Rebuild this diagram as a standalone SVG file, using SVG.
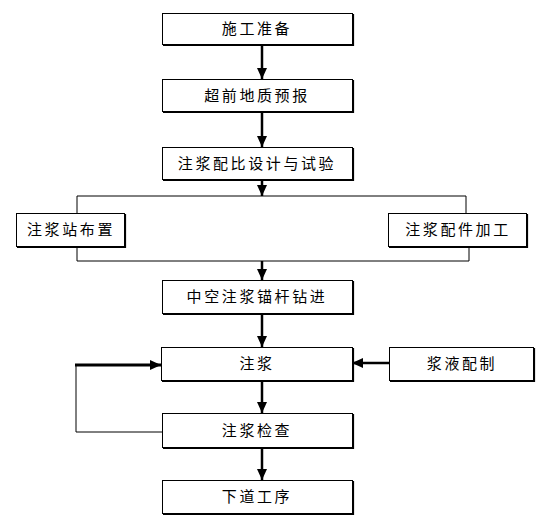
<svg xmlns="http://www.w3.org/2000/svg" width="543" height="522" viewBox="0 0 543 522">
<defs>
<style>
.box{fill:#fff;stroke:#000;stroke-width:1}
.sh{fill:none;stroke:#000;stroke-width:1.2}
.t{font-family:"Noto Sans CJK SC","Noto Sans CJK JP",sans-serif;font-size:15px;letter-spacing:2.6px;text-anchor:middle;fill:#000}
.thin{fill:none;stroke:#000;stroke-width:1}
.arr{fill:none;stroke:#000;stroke-width:2.5;marker-end:url(#ah)}
</style>
<marker id="ah" markerUnits="userSpaceOnUse" markerWidth="12" markerHeight="12" viewBox="0 0 12 12" refX="11" refY="6" orient="auto">
<path d="M0,1 L11,6 L0,11 Z" fill="#000"/>
</marker>
</defs>
<rect width="543" height="522" fill="#fff"/>
<g id="connectors">
<line class="arr" x1="262" y1="45" x2="262" y2="79"/>
<line class="arr" x1="262" y1="113" x2="262" y2="147"/>
<line class="arr" x1="262" y1="180" x2="262" y2="196"/>
<polyline class="thin" points="77,213 77,196 466,196 466,213"/>
<polyline class="thin" points="77,247 77,261 469,261 469,247"/>
<line class="arr" x1="262" y1="261" x2="262" y2="280"/>
<line class="arr" x1="262" y1="314" x2="262" y2="347"/>
<line class="arr" x1="262" y1="381" x2="262" y2="413"/>
<line class="arr" x1="262" y1="448" x2="262" y2="480"/>
<polyline class="thin" points="162,432 76,432 76,365"/>
<line x1="75" y1="365" x2="161" y2="365" stroke="#000" stroke-width="3.2" marker-end="url(#ah)"/>
<line class="arr" x1="389" y1="363" x2="352" y2="363"/>
</g>
<g id="n1"><rect class="box" x="162.5" y="13.5" width="190" height="31"/><polyline class="sh" points="353.5,14 353.5,45.5 163,45.5"/><text class="t" x="257" y="34">施工准备</text></g>
<g id="n2"><rect class="box" x="162.5" y="79.5" width="190" height="32"/><polyline class="sh" points="353.5,80 353.5,112.5 163,112.5"/><text class="t" x="257" y="101">超前地质预报</text></g>
<g id="n3"><rect class="box" x="162.5" y="147.5" width="190" height="32"/><polyline class="sh" points="353.5,148 353.5,180.5 163,180.5"/><text class="t" x="257" y="169">注浆配比设计与试验</text></g>
<g id="n4"><rect class="box" x="16.5" y="213.5" width="108" height="33"/><polyline class="sh" points="125.5,214 125.5,247.5 17,247.5"/><text class="t" x="71" y="235">注浆站布置</text></g>
<g id="n5"><rect class="box" x="388.5" y="213.5" width="138" height="33"/><polyline class="sh" points="527.5,214 527.5,247.5 389,247.5"/><text class="t" x="458" y="235">注浆配件加工</text></g>
<g id="n6"><rect class="box" x="162.5" y="280.5" width="190" height="33"/><polyline class="sh" points="353.5,281 353.5,314.5 163,314.5"/><text class="t" x="257" y="302">中空注浆锚杆钻进</text></g>
<g id="n7"><rect class="box" x="161.5" y="347.5" width="191" height="33"/><polyline class="sh" points="353.5,348 353.5,381.5 162,381.5"/><text class="t" x="257" y="369">注浆</text></g>
<g id="n8"><rect class="box" x="389.5" y="347.5" width="144" height="33"/><polyline class="sh" points="534.5,348 534.5,381.5 390,381.5"/><text class="t" x="462" y="369">浆液配制</text></g>
<g id="n9"><rect class="box" x="162.5" y="413.5" width="190" height="34"/><polyline class="sh" points="353.5,414 353.5,448.5 163,448.5"/><text class="t" x="257" y="436">注浆检查</text></g>
<g id="n10"><rect class="box" x="162.5" y="480.5" width="190" height="33"/><polyline class="sh" points="353.5,481 353.5,514.5 163,514.5"/><text class="t" x="257" y="502">下道工序</text></g>
</svg>
